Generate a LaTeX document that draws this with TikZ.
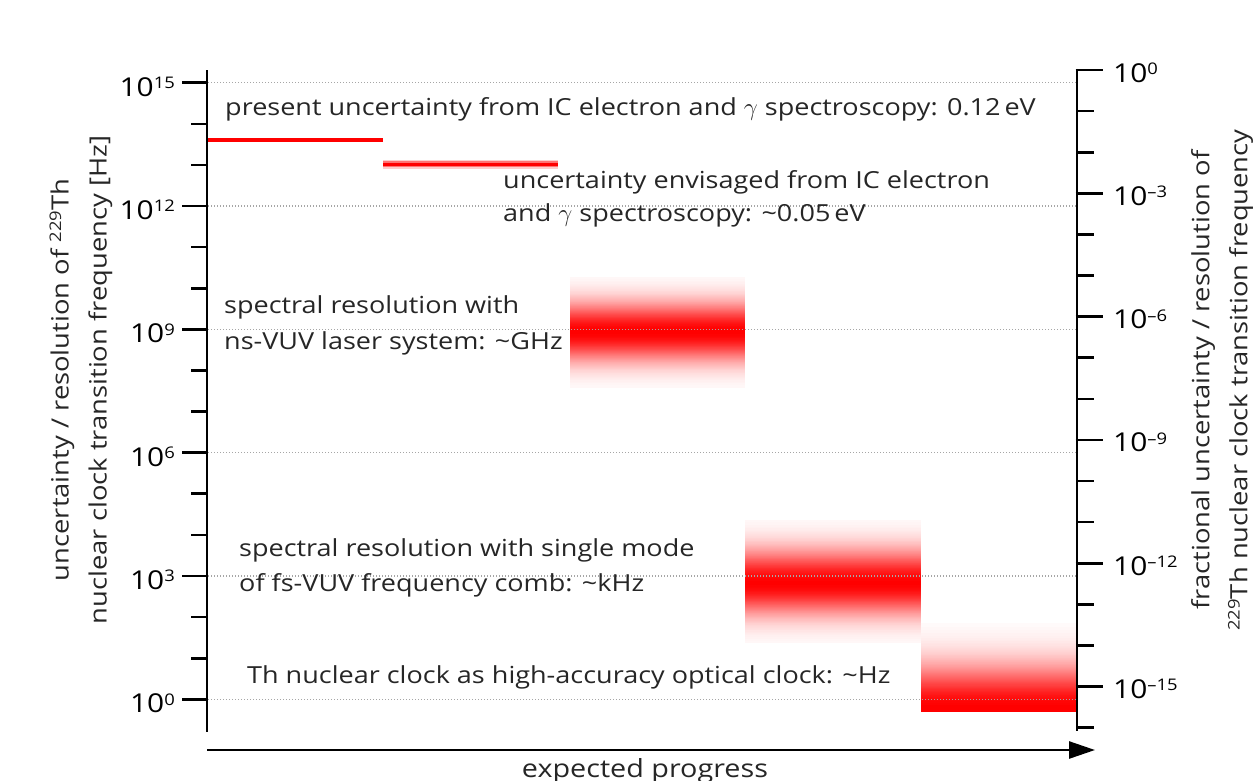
\documentclass[tikz,border=0pt]{standalone}
\usepackage{fontspec}
\setmainfont{Open Sans}[FakeStretch=1.15]
\usetikzlibrary{arrows.meta}
\newcommand{\supr}[1]{\raisebox{7.6pt}{\fontsize{16}{16}\selectfont #1}}
\tikzset{
  axisline/.style={line width=2.6pt, black},
  tickline/.style={line width=2.6pt, black},
  gridline/.style={gray!70, line width=1.3pt, dash pattern=on 1.3pt off 1.7pt},
  ticklab/.style={font=\fontsize{26}{30}\selectfont, inner sep=0pt},
  txt/.style={font=\fontsize{23.5}{30}\selectfont, inner sep=0pt, anchor=base west, text=black!85},
  axlab/.style={font=\fontsize{23.8}{38}\selectfont, inner sep=0pt, align=center, rotate=90, text=black!85},
}
\begin{document}
\begin{tikzpicture}[x=1pt,y=-1pt]
\useasboundingbox (0,0) rectangle (1254,780);
\fill[white] (0,0) rectangle (1254,780);

% --- bands (gaussian-like red shading) ---
\foreach \yy in {277,...,387}{
  \pgfmathsetmacro\d{\yy+0.5-332}
  \pgfmathtruncatemacro\c{max(0,min(100,round(100*exp(-(\d)*(\d)/850))))}
  \fill[red!\c] (570,\yy) rectangle (745,\yy+1.2);
}
\foreach \yy in {520,...,642}{
  \pgfmathsetmacro\d{\yy+0.5-583}
  \pgfmathsetmacro\s{\d<0 ? 1100 : 1000}
  \pgfmathtruncatemacro\c{max(0,min(100,round(100*exp(-(\d)*(\d)/\s))))}
  \fill[red!\c] (745,\yy) rectangle (921,\yy+1.2);
}
\foreach \yy in {623,...,711}{
  \pgfmathsetmacro\d{max(0,708-\yy-0.5)}
  \pgfmathtruncatemacro\c{max(0,min(100,round(100*exp(-(\d)*(\d)/1800))))}
  \fill[red!\c] (921,\yy) rectangle (1077,\yy+1.2);
}
% --- present / envisaged uncertainty lines ---
\draw[red, line width=3.7pt] (208,140) -- (383,140);
\draw[red!20, line width=9pt] (383,164) -- (558,164);
\draw[red!55, line width=6pt] (383,164) -- (558,164);
\draw[red, line width=3pt] (383,164) -- (558,164);

% --- grid lines ---
\foreach \k in {0,3,...,15}{
  \draw[gridline] (208,699.3-41.107*\k) -- (1076,699.3-41.107*\k);
}

% --- left axis ---
\coordinate (Ltop) at (207,70);
\coordinate (Lbot) at (207,731.7);
\draw[axisline] (Ltop) -- (Lbot);
\foreach \k in {0,...,15}{
  \pgfmathsetmacro\yk{699.3-41.107*\k}
  \pgfmathtruncatemacro\m{mod(\k,3)}
  \ifnum\m=0
    \draw[tickline] (182,\yk) -- (207,\yk);
  \else
    \draw[tickline] (191,\yk) -- (207,\yk);
  \fi
}
\node[ticklab, anchor=base east] (l15) at (175,96.2) {10\supr{15}};
\node[ticklab, anchor=base east] (l12) at (175,219.5) {10\supr{12}};
\node[ticklab, anchor=base east] (l9)  at (175,342.8) {10\supr{9}};
\node[ticklab, anchor=base east] (l6)  at (175,466.1) {10\supr{6}};
\node[ticklab, anchor=base east] (l3)  at (175,589.4) {10\supr{3}};
\node[ticklab, anchor=base east] (l0)  at (175,712.7) {10\supr{0}};

% --- right axis ---
\coordinate (Rtop) at (1077,68.8);
\coordinate (Rbot) at (1077,731);
\draw[axisline] (Rtop) -- (Rbot);
\foreach \j in {0,...,16}{
  \pgfmathsetmacro\yj{70+41.107*\j}
  \pgfmathtruncatemacro\m{mod(\j,3)}
  \ifnum\m=0
    \draw[tickline] (1075.7,\yj) -- (1103,\yj);
  \else
    \draw[tickline] (1077,\yj) -- (1094,\yj);
  \fi
}
\node[ticklab, anchor=base west] (r0)  at (1113,82)    {10\supr{0}};
\node[ticklab, anchor=base west] (r3)  at (1113,205.3) {10\supr{–3}};
\node[ticklab, anchor=base west] (r6)  at (1113,328.6) {10\supr{–6}};
\node[ticklab, anchor=base west] (r9)  at (1113,451.9) {10\supr{–9}};
\node[ticklab, anchor=base west] (r12) at (1113,575.2) {10\supr{–12}};
\node[ticklab, anchor=base west] (r15) at (1113,698.5) {10\supr{–15}};

% --- progress arrow ---
\coordinate (Astart) at (207,750);
\coordinate (Aend) at (1095,750);
\draw[line width=2.6pt, -{Triangle[length=26pt,width=17pt]}] (Astart) -- (Aend);
\node[font=\fontsize{25}{30}\selectfont, inner sep=0pt, anchor=base, text=black!85] (prog) at (645,777.5) {expected progress};

% --- axis titles ---
\node[axlab] (ylab) at (81,380) {uncertainty / resolution of \supr{229}Th\\nuclear clock transition frequency [Hz]};
\node[axlab] (y2lab) at (1222,380) {fractional uncertainty / resolution of\\\supr{229}Th nuclear clock transition frequency};

% --- annotations ---
\node[txt] (t1) at (225,115) {present uncertainty from IC electron and $\gamma$ spectroscopy: 0.12\,eV};
\node[txt] (t2a) at (503,188) {uncertainty envisaged from IC electron};
\node[txt] (t2b) at (503,221.5) {and $\gamma$ spectroscopy: \textasciitilde0.05\,eV};
\node[txt] (t3a) at (224,313.5) {spectral resolution with};
\node[txt] (t3b) at (224,349.5) {ns-VUV laser system: \textasciitilde GHz};
\node[txt] (t4a) at (239,556) {spectral resolution with single mode};
\node[txt] (t4b) at (239,591.5) {of fs-VUV frequency comb: \textasciitilde kHz};
\node[txt] (t5) at (247,683) {Th nuclear clock as high-accuracy optical clock: \textasciitilde Hz};
\end{tikzpicture}
\end{document}
